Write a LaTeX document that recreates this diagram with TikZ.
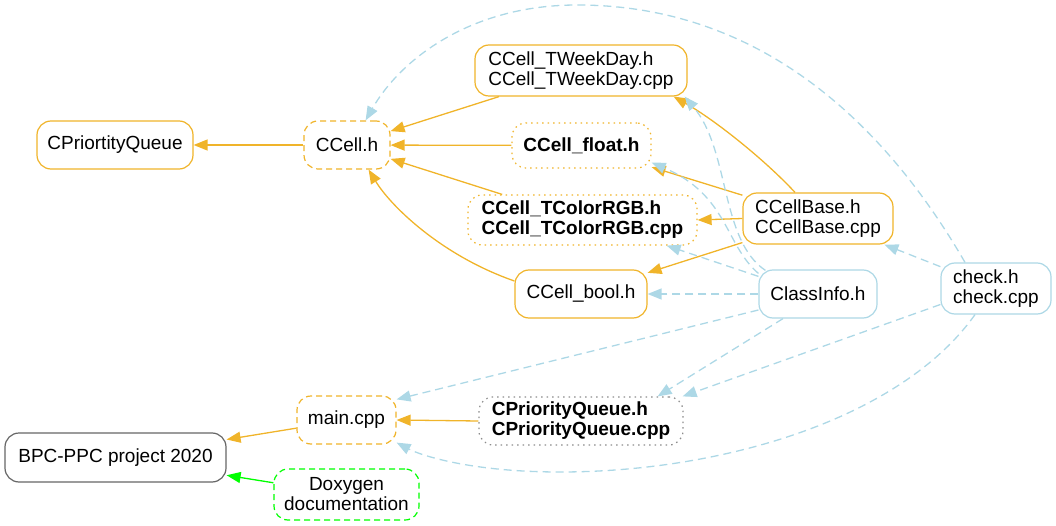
\documentclass[tikz,border=0pt]{standalone}
\usepackage{fontspec}
\setmainfont{Liberation Sans}
\usetikzlibrary{arrows.meta}
\definecolor{gorange}{RGB}{240,180,42}
\definecolor{lblue}{RGB}{173,216,230}
\definecolor{lgreen}{RGB}{0,255,0}
\definecolor{dgray}{RGB}{102,102,102}
\definecolor{mgray}{RGB}{140,140,140}
\begin{document}
\begin{tikzpicture}[x=1pt,y=-1pt,
  box/.style={draw, rounded corners=14pt, line width=1.2pt, fill=white, inner sep=0pt,
    font=\fontsize{19}{20}\selectfont, align=left},
  obox/.style={box, draw=gorange},
  odash/.style={box, draw=gorange, dash pattern=on 6pt off 4pt},
  odot/.style={box, draw=gorange, dash pattern=on 1.5pt off 4pt, font=\fontsize{19}{20}\selectfont\bfseries},
  bbox/.style={box, draw=lblue},
  gdot/.style={box, draw=mgray, dash pattern=on 1.5pt off 4pt, font=\fontsize{19}{20}\selectfont\bfseries},
  kbox/.style={box, draw=dgray},
  gdash/.style={box, draw=lgreen, dash pattern=on 6pt off 4pt, align=center},
  tip/.style={-{Triangle[length=14pt,width=11pt]}},
  oedge/.style={tip, draw=gorange, line width=1.3pt},
  bedge/.style={tip, draw=lblue, line width=1.3pt, dash pattern=on 8pt off 5pt},
  gedge/.style={tip, draw=lgreen, line width=1.3pt}
]
\useasboundingbox (0,0) rectangle (1056,526);

\node[obox, minimum width=156pt, minimum height=48pt] (cpq) at (115,145) {CPriortityQueue};
\node[odash, minimum width=86pt, minimum height=48pt] (ccell) at (347,145) {CCell.h};
\node[obox, minimum width=212pt, minimum height=51pt] (tweek) at (581,70.5) {CCell\_TWeekDay.h\\CCell\_TWeekDay.cpp};
\node[odot, minimum width=139pt, minimum height=45pt] (float) at (581.5,145.5) {CCell\_float.h};
\node[odot, minimum width=229pt, minimum height=50pt] (trgb) at (582.5,220) {CCell\_TColorRGB.h\\CCell\_TColorRGB.cpp};
\node[obox, minimum width=132pt, minimum height=48pt] (bool) at (581,294) {CCell\_bool.h};
\node[obox, minimum width=150pt, minimum height=51pt] (base) at (818,218.5) {CCellBase.h\\CCellBase.cpp};
\node[bbox, minimum width=118pt, minimum height=48pt] (classinfo) at (818,294) {ClassInfo.h};
\node[bbox, minimum width=110pt, minimum height=51pt] (check) at (996,288.5) {check.h\\check.cpp};
\node[odash, minimum width=99pt, minimum height=48pt] (main) at (346.5,420) {main.cpp};
\node[gdot, minimum width=204pt, minimum height=48pt] (cpqh) at (581,421) {CPriorityQueue.h\\CPriorityQueue.cpp};
\node[kbox, minimum width=221pt, minimum height=49pt] (bpc) at (115.5,457.5) {BPC-PPC project 2020};
\node[gdash, minimum width=145pt, minimum height=51pt] (doxy) at (346.5,494.5) {Doxygen\\documentation};

% orange edges
\draw[oedge] (ccell) -- (cpq);
\draw[oedge] (tweek) -- (ccell);
\draw[oedge] (float) -- (ccell);
\draw[oedge] (trgb) -- (ccell);
\draw[oedge] ([yshift=13pt]bool.west) .. controls (440,255) and (390,205) .. ([xshift=-22pt]ccell.south east);
\draw[oedge] ([xshift=-23pt]base.north) .. controls (765,160) and (715,120) .. ([xshift=-14pt]tweek.south east);
\draw[oedge] (base) -- (float);
\draw[oedge] (base.west) -- (trgb.east);
\draw[oedge] (base) -- (bool);
\draw[oedge] (cpqh.west) -- (main.east);
\draw[oedge] (main) -- (bpc);
\draw[gedge] (doxy) -- (bpc);

% light blue dashed edges
\draw[bedge] ([xshift=-31pt]check.north) .. controls (900,150) and (780,5) .. (577,5)
  .. controls (470,5) and (400,60) .. ([xshift=-25pt]ccell.north east);
\draw[bedge] ([xshift=7pt,yshift=-1pt]classinfo.north west) .. controls (720,240) and (730,150) .. ([xshift=-3pt]tweek.south east);
\draw[bedge] ([yshift=-4pt]classinfo.north west) .. controls (725,245) and (728,195) .. ([yshift=6pt]float.south east);
\draw[bedge] ([yshift=-7pt]classinfo.north west) -- ([xshift=-31pt]trgb.south east);
\draw[bedge] (classinfo) -- (bool);
\draw[bedge] ([yshift=-16pt]classinfo.west) -- ([yshift=-4pt]main.north east);
\draw[bedge] ([xshift=-35pt]classinfo.south) -- ([xshift=-26pt]cpqh.north east);
\draw[bedge] (check) -- (base);
\draw[bedge] ([yshift=-16pt]check.west) -- ([xshift=-1pt]cpqh.north east);
\draw[bedge] ([xshift=-21pt]check.south) .. controls (900,420) and (720,472) .. (560,472)
  .. controls (470,472) and (420,455) .. ([yshift=2pt]main.south east);
\end{tikzpicture}
\end{document}
